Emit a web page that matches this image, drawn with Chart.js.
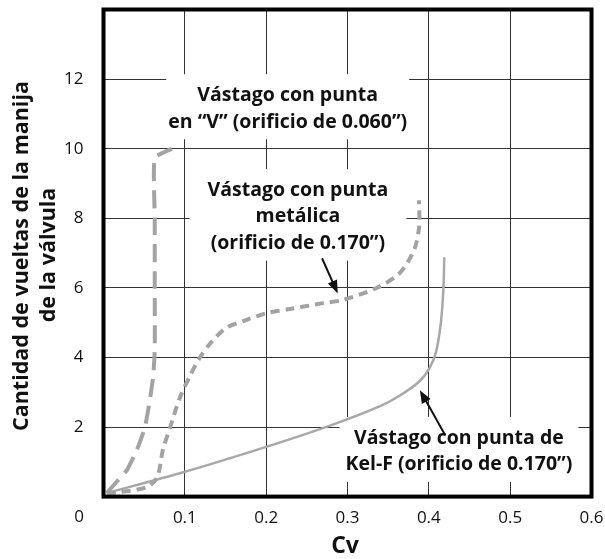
<!DOCTYPE html>
<html>
<head>
<meta charset="utf-8">
<script src="https://cdn.jsdelivr.net/npm/chart.js@4/dist/chart.umd.min.js"></script>
<style>
html,body{margin:0;padding:0;background:#fff;}
canvas{display:block;}
</style>
</head>
<body>
<canvas id="c" width="605" height="559"></canvas>
<script>
// ---- Data (Cv vs. handle turns) ----
const cvV    = [0.004, 0.016, 0.029, 0.041, 0.051, 0.057, 0.061, 0.063, 0.063, 0.063, 0.063, 0.084];
const turnsV = [0.1,   0.42,  0.77,  1.34,  2.0,   2.78,  3.44,  4.2,   6.0,   8.0,   9.73,  10.0];

const cvM    = [0.004, 0.02, 0.053, 0.066, 0.073, 0.082, 0.094, 0.106, 0.118, 0.133, 0.151, 0.176, 0.2,  0.229, 0.27, 0.294, 0.335, 0.364, 0.382, 0.388, 0.388];
const turnsM = [0.1,   0.13, 0.27,  0.56,  1.34,  2.0,   2.85,  3.45,  3.98,  4.45,  4.85,  5.08,  5.27, 5.39,  5.56, 5.65,  5.99,  6.42,  7.1,   7.75,  8.52];

const cvK    = [0.004, 0.098, 0.2,  0.282, 0.34, 0.364, 0.388, 0.401, 0.409, 0.415, 0.418, 0.419];
const turnsK = [0.1,   0.7,   1.43, 2.07,  2.6,  2.9,   3.3,   3.7,   4.17,  5.04,  6.02,  6.88];

const xTicks = [0.1, 0.2, 0.3, 0.4, 0.5, 0.6];
const yTicks = [2, 4, 6, 8, 10, 12];

const xTitle = 'Cv';
const yTitleLines = ['Cantidad de vueltas de la manija', 'de la válvula'];

const labelV = ['Vástago con punta', 'en “V” (orificio de 0.060”)'];
const labelM = ['Vástago con punta', 'metálica', '(orificio de 0.170”)'];
const labelK = ['Vástago con punta de', 'Kel-F (orificio de 0.170”)'];

const pts = (xs, ys) => xs.map((x, i) => ({x: x, y: ys[i]}));

// annotation placement (data units)
const notes = [
  {lines: labelV, x: 0.2265, y: 11.53, padX: 2, padY: 8},
  {lines: labelM, x: 0.239,  y: 8.80,  padX: 18, padY: 8},
  {lines: labelK, x: 0.437,  y: 1.68,  padX: 6, padY: 8}
];
const arrows = [
  {from: {x: 0.2687, y: 6.85}, to: {x: 0.288, y: 5.84}},
  {from: {x: 0.420,  y: 1.77}, to: {x: 0.389, y: 3.06}}
];

const FONT = '"Open Sans", "Noto Sans", sans-serif';
const LH = 26.5;
const NOTE_FONT = 'bold 19.5px ' + FONT;

const deco = {
  id: 'deco',
  beforeDatasetsDraw(chart) {
    const ctx = chart.ctx, xs = chart.scales.x, ys = chart.scales.y;
    ctx.save();
    ctx.font = NOTE_FONT;
    notes.forEach(n => {
      const cx = xs.getPixelForValue(n.x), cy = ys.getPixelForValue(n.y);
      const w = Math.max(...n.lines.map(l => ctx.measureText(l).width));
      const top = cy - LH / 2 - n.padY;
      const h = LH * n.lines.length + n.padY * 2 - 4;
      ctx.fillStyle = '#fff';
      ctx.fillRect(cx - w / 2 - n.padX, top, w + n.padX * 2, h);
    });
    ctx.restore();
  },
  afterDraw(chart) {
    const ctx = chart.ctx, xs = chart.scales.x, ys = chart.scales.y, a = chart.chartArea;
    ctx.save();
    // frame
    ctx.strokeStyle = '#000';
    ctx.lineWidth = 4;
    ctx.strokeRect(a.left, a.top, a.right - a.left, a.bottom - a.top);
    // annotation text
    ctx.fillStyle = '#111';
    ctx.font = NOTE_FONT;
    ctx.textAlign = 'center';
    ctx.textBaseline = 'middle';
    notes.forEach(n => {
      const cx = xs.getPixelForValue(n.x), cy = ys.getPixelForValue(n.y);
      n.lines.forEach((l, i) => ctx.fillText(l, cx, cy + i * LH));
    });
    // arrows
    arrows.forEach(ar => {
      const x1 = xs.getPixelForValue(ar.from.x), y1 = ys.getPixelForValue(ar.from.y);
      const x2 = xs.getPixelForValue(ar.to.x), y2 = ys.getPixelForValue(ar.to.y);
      const ang = Math.atan2(y2 - y1, x2 - x1);
      ctx.strokeStyle = '#111';
      ctx.lineWidth = 2;
      ctx.beginPath();
      ctx.moveTo(x1, y1);
      ctx.lineTo(x2 - 8 * Math.cos(ang), y2 - 8 * Math.sin(ang));
      ctx.stroke();
      ctx.fillStyle = '#111';
      ctx.beginPath();
      ctx.moveTo(x2, y2);
      ctx.lineTo(x2 - 13 * Math.cos(ang) + 5 * Math.sin(ang), y2 - 13 * Math.sin(ang) - 5 * Math.cos(ang));
      ctx.lineTo(x2 - 13 * Math.cos(ang) - 5 * Math.sin(ang), y2 - 13 * Math.sin(ang) + 5 * Math.cos(ang));
      ctx.closePath();
      ctx.fill();
    });
    // corner zero
    ctx.font = '17px ' + FONT;
    ctx.fillStyle = '#111';
    ctx.textAlign = 'center';
    ctx.fillText('0', a.left - 24.5, a.bottom + 21);
    // x title
    ctx.font = 'bold 23px ' + FONT;
    ctx.fillText(xTitle, xs.getPixelForValue(0.297), a.bottom + 50);
    // y title
    ctx.font = 'bold 21.5px ' + FONT;
    ctx.save();
    ctx.translate(22, 256);
    ctx.rotate(-Math.PI / 2);
    ctx.fillText(yTitleLines[0], 0, 0);
    ctx.restore();
    ctx.save();
    ctx.translate(49, 255);
    ctx.rotate(-Math.PI / 2);
    ctx.fillText(yTitleLines[1], 0, 0);
    ctx.restore();
    ctx.restore();
  }
};

new Chart(document.getElementById('c'), {
  type: 'scatter',
  data: {
    datasets: [
      {data: pts(cvV, turnsV), showLine: true, borderColor: '#a3a3a3', borderWidth: 4, borderDash: [18, 9], pointRadius: 0, tension: 0.15, fill: false},
      {data: pts(cvM, turnsM), showLine: true, borderColor: '#a3a3a3', borderWidth: 4, borderDash: [9, 6], pointRadius: 0, tension: 0.3, fill: false},
      {data: pts(cvK, turnsK), showLine: true, borderColor: '#a8a8a8', borderWidth: 2.5, pointRadius: 0, tension: 0.3, fill: false}
    ]
  },
  options: {
    responsive: false,
    animation: false,
    layout: {padding: {left: 0, right: 13.5, top: 9.5, bottom: 0}},
    plugins: {legend: {display: false}, tooltip: {enabled: false}},
    scales: {
      x: {
        type: 'linear', min: 0, max: 0.6,
        afterBuildTicks: s => { s.ticks = [{value: 0}].concat(xTicks.map(v => ({value: v}))); },
        afterFit: s => { s.height = 62.4; s.paddingLeft = 0; s.paddingRight = 0; },
        ticks: {
          callback: v => (v === 0 ? '' : v.toFixed(1)),
          font: {family: FONT, size: 17}, color: '#111', padding: 11, maxRotation: 0, autoSkip: false
        },
        grid: {color: '#333', lineWidth: 1, drawTicks: false},
        border: {display: false}
      },
      y: {
        type: 'linear', min: 0, max: 14,
        afterBuildTicks: s => { s.ticks = yTicks.map(v => ({value: v})); },
        afterFit: s => { s.width = 103.5; s.paddingTop = 0; s.paddingBottom = 0; },
        ticks: {font: {family: FONT, size: 17}, color: '#111', padding: 20, autoSkip: false},
        grid: {color: '#333', lineWidth: 1, drawTicks: false},
        border: {display: false}
      }
    }
  },
  plugins: [deco]
});
</script>
</body>
</html>
